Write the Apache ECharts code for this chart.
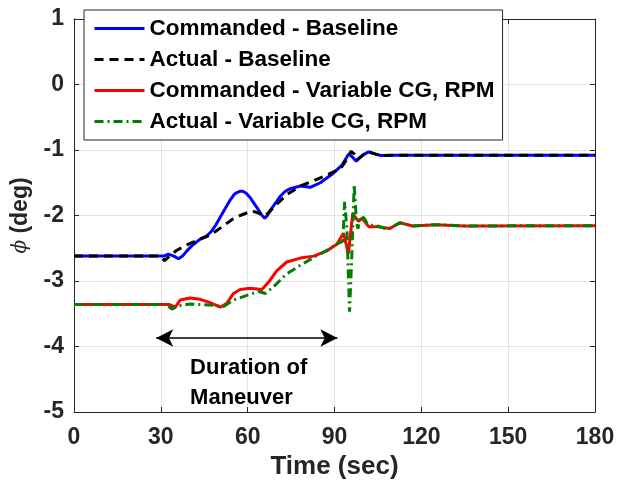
<!DOCTYPE html>
<html>
<head>
<meta charset="utf-8">
<script src="https://cdn.jsdelivr.net/npm/echarts@6/dist/echarts.min.js"></script>
<style>
  html, body { margin: 0; padding: 0; background: #fff; }
  #main { width: 628px; height: 489px; }
</style>
</head>
<body>
<div id="main"></div>
<script>
var myChart = echarts.init(document.getElementById('main'));

var names = ['Commanded - Baseline', 'Actual - Baseline', 'Commanded - Variable CG, RPM', 'Actual - Variable CG, RPM'];
var xTicks = [0, 30, 60, 90, 120, 150, 180];
var yTicks = [-5, -4, -3, -2, -1, 0, 1];

// [time (sec), phi (deg)]
var cmdBaseline = [
	[0, -2.62], [31, -2.62], [32.6, -2.59], [34.5, -2.62], [36.1, -2.66], [37.5, -2.62], [39, -2.54],
	[41, -2.45], [43.6, -2.36], [45.9, -2.31], [47.5, -2.24], [48.8, -2.16], [51.1, -1.98], [54, -1.76],
	[55.3, -1.68], [56.3, -1.65], [57.3, -1.63], [58.3, -1.63], [59.5, -1.66], [60.9, -1.73], [63.2, -1.88],
	[65, -2.00], [65.9, -2.04], [66.8, -2.00], [67.8, -1.92], [71.2, -1.71], [73, -1.63], [74.7, -1.59],
	[78.2, -1.55], [81.6, -1.57], [85.1, -1.50], [89.7, -1.35], [92.6, -1.23], [94.9, -1.06], [96, -1.10],
	[97.5, -1.17], [100, -1.07], [101.8, -1.03], [104, -1.06], [106, -1.085], [110, -1.08], [180, -1.08]
];
var actBaseline = [
	[0, -2.62], [30, -2.62], [31.3, -2.69], [33, -2.62], [35.5, -2.53], [39, -2.45], [43.6, -2.36],
	[46, -2.32], [49, -2.24], [52.8, -2.12], [55, -2.05], [57.4, -2.00], [61.5, -1.93], [63.5, -1.96],
	[66, -2.01], [68.9, -1.88], [73.5, -1.68], [78.2, -1.55], [82.8, -1.47], [87.4, -1.38], [92, -1.29],
	[94.3, -1.14], [95.7, -1.02], [96.8, -1.06], [97.7, -1.15], [100, -1.07], [101.8, -1.03], [104, -1.06],
	[106, -1.085], [110, -1.08], [180, -1.08]
];
var cmdVariable = [
	[0, -3.36], [33, -3.36], [35, -3.40], [36.7, -3.29], [40.1, -3.26], [43.6, -3.28], [47, -3.33],
	[50.5, -3.40], [52.8, -3.34], [55.1, -3.19], [57.4, -3.13], [60.9, -3.11], [64.9, -3.13], [67.2, -3.02],
	[70.1, -2.84], [73.5, -2.71], [78.2, -2.65], [82.8, -2.62], [87.4, -2.54], [90.8, -2.44], [93.1, -2.27],
	[94.8, -2.58], [96.3, -1.97], [98.3, -2.09], [99.5, -2.04], [101.8, -2.17], [105, -2.17], [109, -2.20],
	[112.6, -2.11], [117, -2.16], [125, -2.14], [135, -2.16], [180, -2.155]
];
var actVariable = [
	[0, -3.36], [32, -3.36], [33.8, -3.43], [36, -3.38], [40, -3.35], [44, -3.36], [48, -3.37],
	[51.7, -3.39], [55.1, -3.29], [59.7, -3.22], [63.8, -3.16], [66.1, -3.19], [68.9, -3.09], [73.5, -2.89],
	[78.2, -2.76], [82.8, -2.64], [87.4, -2.53], [91.4, -2.42], [92.9, -2.39], [93.5, -1.79], [94.3, -2.21],
	[95.2, -3.47], [96, -2.60], [96.8, -1.53], [97.6, -2.10], [98.1, -2.20], [99, -2.01], [100.2, -2.04],
	[101.5, -2.14], [104.7, -2.16], [108.5, -2.21], [112.6, -2.11], [117, -2.16], [125, -2.14],
	[135, -2.16], [180, -2.155]
];

// maneuver annotation: arrow from/to (sec) at phi, and text anchor
var arrowSpan = [28.4, 91];
var arrowY = -3.87;
var noteAt = [40.1, -4.55];

var axisColor = '#262626';
var font = 'Liberation Sans, Arial, Helvetica, sans-serif';
var lineWidth = 3;

function lineSeries(name, data, color, type) {
	return {
		name: name,
		type: 'line',
		data: data,
		symbol: 'none',
		lineStyle: { color: color, width: lineWidth, type: type },
		itemStyle: { color: color },
		z: 3
	};
}

option = {
	animation: false,
	textStyle: { fontFamily: font },
	grid: { left: 74, top: 19, width: 521, height: 393 },
	legend: {
		data: names.map(function (n) {
			return { name: n, itemStyle: { opacity: 0 } };
		}),
		orient: 'vertical',
		left: 84,
		top: 10,
		padding: [3, 8, 3, 9],
		itemGap: 0,
		itemWidth: 50,
		itemHeight: 14,
		backgroundColor: '#fff',
		borderColor: axisColor,
		borderWidth: 1,
		borderRadius: 0,
		z: 10,
		lineStyle: { width: 3 },
		textStyle: { fontSize: 22.5, fontWeight: 'bold', color: '#000', lineHeight: 31, fontFamily: font }
	},
	xAxis: [{
		type: 'value',
		min: 0,
		max: 180,
		interval: 30,
		name: 'Time (sec)',
		nameLocation: 'middle',
		nameGap: 38,
		nameTextStyle: { fontSize: 26, fontWeight: 'bold', color: axisColor },
		axisLine: { onZero: false, lineStyle: { color: axisColor, width: 1 } },
		axisTick: { inside: true, length: 5, lineStyle: { color: axisColor } },
		axisLabel: { fontSize: 23, fontWeight: 'bold', color: axisColor, margin: 14 },
		splitLine: { show: true, lineStyle: { color: '#e3e3e3', width: 1 } }
	}, {
		type: 'value',
		position: 'top',
		min: 0,
		max: 180,
		interval: 30,
		axisLine: { show: true, onZero: false, lineStyle: { color: axisColor, width: 1 } },
		axisTick: { inside: true, length: 5, lineStyle: { color: axisColor } },
		axisLabel: { show: false },
		splitLine: { show: false }
	}],
	yAxis: [{
		type: 'value',
		min: -5,
		max: 1,
		interval: 1,
		name: '{phi|ϕ} (deg)',
		nameLocation: 'middle',
		nameGap: 35,
		nameRotate: 90,
		nameTextStyle: {
			fontSize: 23, fontWeight: 'bold', color: axisColor,
			rich: { phi: { fontSize: 20, fontStyle: 'italic', fontWeight: 'normal', color: axisColor, fontFamily: 'DejaVu Serif' } }
		},
		axisLine: { show: true, onZero: false, lineStyle: { color: axisColor, width: 1 } },
		axisTick: { show: true, inside: true, length: 5, lineStyle: { color: axisColor } },
		axisLabel: { fontSize: 23, fontWeight: 'bold', color: axisColor, margin: 10 },
		splitLine: { show: true, lineStyle: { color: '#e3e3e3', width: 1 } }
	}, {
		type: 'value',
		position: 'right',
		min: -5,
		max: 1,
		interval: 1,
		axisLine: { show: true, onZero: false, lineStyle: { color: axisColor, width: 1 } },
		axisTick: { show: true, inside: true, length: 5, lineStyle: { color: axisColor } },
		axisLabel: { show: false },
		splitLine: { show: false }
	}],
	series: [
		lineSeries(names[0], cmdBaseline, '#0000ff', 'solid'),
		lineSeries(names[1], actBaseline, '#000000', [9, 6]),
		lineSeries(names[2], cmdVariable, '#ff0000', 'solid'),
		lineSeries(names[3], actVariable, '#008000', [9, 4, 2, 4]),
		{
			name: 'annotation',
			type: 'line',
			data: [],
			silent: true,
			markLine: {
				silent: true,
				symbol: ['arrow', 'arrow'],
				symbolSize: [13, 17],
				label: { show: false },
				lineStyle: { color: '#000', width: 1.5, type: 'solid' },
				data: [[{ coord: [arrowSpan[0], arrowY] }, { coord: [arrowSpan[1], arrowY] }]]
			},
			markPoint: {
				silent: true,
				symbol: 'rect',
				symbolSize: 0,
				label: {
					show: true,
					position: 'right',
					distance: 0,
					formatter: 'Duration of\nManeuver',
					fontSize: 22,
					fontWeight: 'bold',
					lineHeight: 30,
					color: '#000',
					align: 'left'
				},
				data: [{ coord: noteAt }]
			}
		}
	]
};

myChart.setOption(option);
</script>
</body>
</html>
